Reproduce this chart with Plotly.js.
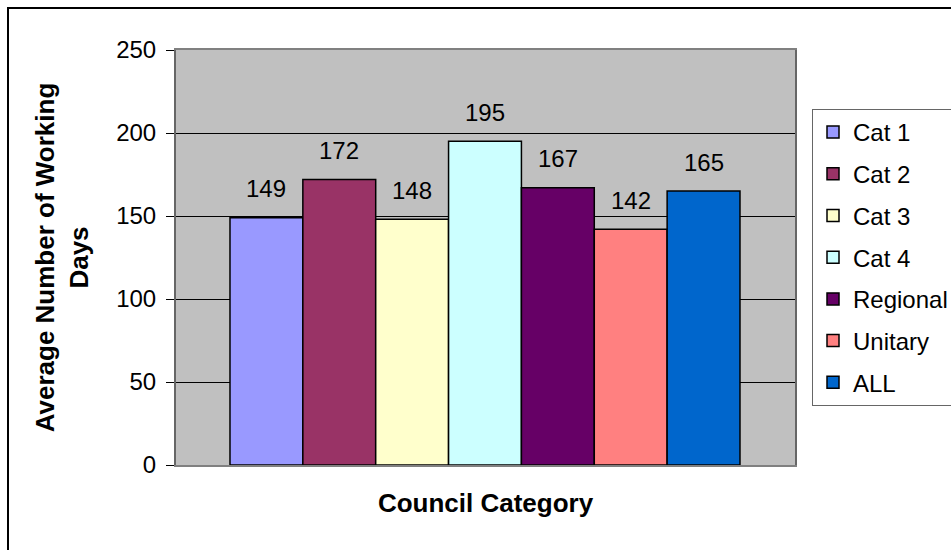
<!DOCTYPE html>
<html>
<head>
<meta charset="utf-8">
<script src="https://cdn.plot.ly/plotly-3.0.1.min.js"></script>
<style>html,body{margin:0;padding:0;background:#fff;}#chart{width:951px;height:550px;}</style>
</head>
<body>
<div id="chart"></div>
<script>
const categories = ["Cat 1", "Cat 2", "Cat 3", "Cat 4", "Regional", "Unitary", "ALL"];
const values = [149, 172, 148, 195, 167, 142, 165];
const colors = ["#9999FF", "#993366", "#FFFFCC", "#CCFFFF", "#660066", "#FF8080", "#0066CC"];
const yTicks = [0, 50, 100, 150, 200, 250];

const FONT = "Arial, 'Liberation Sans', sans-serif";

const traces = categories.map((c, i) => ({
  type: "bar",
  name: c,
  legendgroup: c,
  x: [c],
  y: [values[i]],
  marker: {color: colors[i], line: {color: "#000", width: 1.5}},
  hoverinfo: "name+y"
}));

const annotations = categories.map((c, i) => ({
  x: c, y: values[i], xref: "x", yref: "y",
  text: String(values[i]), showarrow: false, yshift: 29,
  font: {family: FONT, size: 24, color: "#000"}
}));

const layout = {
  width: 951, height: 550,
  margin: {l: 176, r: 156, t: 50, b: 85, autoexpand: false},
  paper_bgcolor: "#fff",
  plot_bgcolor: "#C0C0C0",
  font: {family: FONT, size: 24, color: "#000"},
  barmode: "overlay",
  bargap: 0,
  showlegend: true,
  legend: {
    x: (812 - 176) / 619, xanchor: "left",
    y: (465 - 109) / 415, yanchor: "top",
    bgcolor: "#fff", bordercolor: "#666", borderwidth: 1,
    font: {family: FONT, size: 24, color: "#000"},
    traceorder: "grouped", tracegroupgap: 7.5
  },
  xaxis: {
    type: "category",
    range: [-1.241, 7.255],
    showticklabels: false, ticks: "", showgrid: false, zeroline: false,
    showline: true, mirror: true, linecolor: "#808080", linewidth: 2,
    title: {text: "<b>Council Category</b>", font: {family: FONT, size: 26, color: "#000"}, standoff: 28}
  },
  yaxis: {
    range: [0, 250], tickvals: yTicks, ticktext: yTicks.map(String),
    ticks: "outside", ticklen: 8, tickcolor: "#000", tickwidth: 1,
    ticklabelstandoff: 5,
    showgrid: true, gridcolor: "#000", gridwidth: 1, zeroline: false,
    showline: true, mirror: true, linecolor: "#666", linewidth: 2,
    tickfont: {family: FONT, size: 24, color: "#000"},
    title: {text: "<b>Average Number of Working<br>Days</b>", font: {family: FONT, size: 26, color: "#000"}, standoff: 20}
  },
  annotations: annotations,
  shapes: [{
    type: "rect", xref: "paper", yref: "paper",
    x0: (8 - 176) / 619, x1: (980 - 176) / 619,
    y0: (465 - 580) / 415, y1: (465 - 8) / 415,
    line: {color: "#000", width: 2}, fillcolor: "rgba(0,0,0,0)", layer: "below"
  }]
};

Plotly.newPlot("chart", traces, layout, {displayModeBar: false, staticPlot: true});
</script>
</body>
</html>
